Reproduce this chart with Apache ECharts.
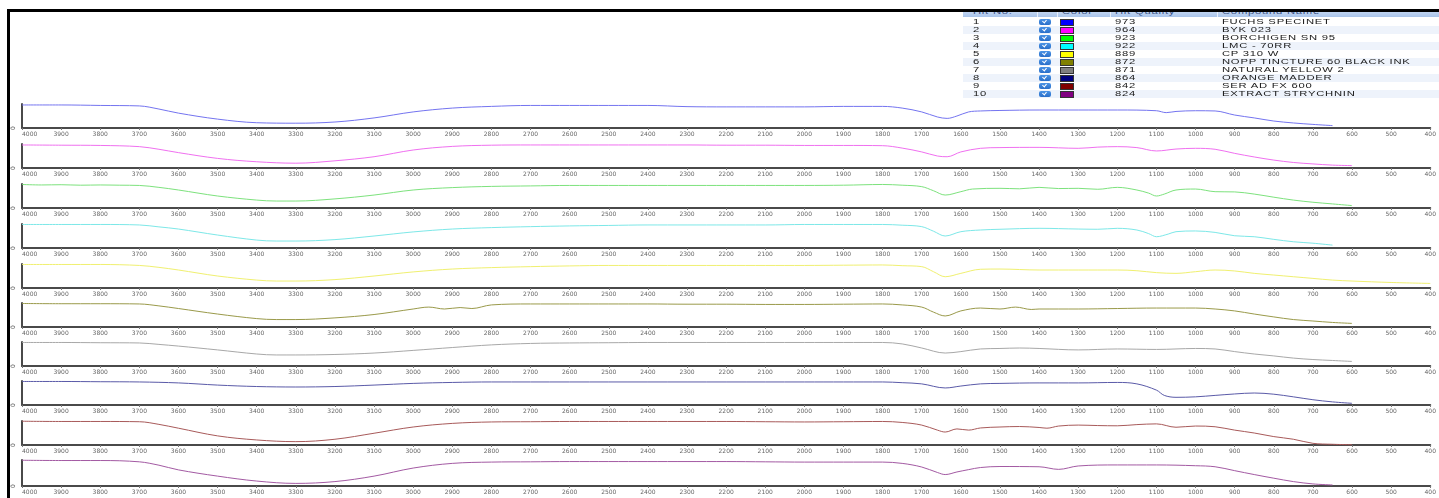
<!DOCTYPE html>
<html><head><meta charset="utf-8">
<script src="https://cdn.jsdelivr.net/npm/echarts@6/dist/echarts.min.js"></script>
<style>
html,body{margin:0;padding:0;background:#fff;}
#wrap{position:relative;width:1439px;height:498px;overflow:hidden;background:#fff;}
#chart{position:absolute;left:0;top:0;width:1439px;height:498px;}
#tbl{position:absolute;left:963px;top:0;width:476px;height:100px;font-family:"Liberation Sans",Arial,sans-serif;font-size:7.5px;color:#1a1a1a;}
.hdr{position:absolute;left:0;top:11px;width:476px;height:6px;overflow:hidden;background:linear-gradient(#c4d7f2,#a9c4ea);}
.row{position:absolute;left:0;width:476px;height:8px;}
.cell{position:absolute;top:0;line-height:8px;white-space:nowrap;letter-spacing:0.5px;transform:scaleX(1.5);transform-origin:0 50%;}
.hcell{position:absolute;top:-3px;line-height:8px;white-space:nowrap;letter-spacing:0.5px;transform:scaleX(1.5);transform-origin:0 50%;color:#3b5486;}
.sep{position:absolute;top:0;width:1px;height:6px;background:#e8effa;}
.chk{position:absolute;top:1px;width:12px;height:6px;border-radius:2px;background:linear-gradient(#4a93e6,#2a6fc9);}
.chk i{position:absolute;left:4px;top:0px;width:2px;height:3px;border-right:1px solid #fff;border-bottom:1px solid #fff;transform:rotate(40deg);}
.sw{position:absolute;top:1px;width:12px;height:5px;border:1px solid #333;}
#btop{position:absolute;left:8px;top:9px;width:1431px;height:3px;background:#000;}
#bleft{position:absolute;left:7px;top:9px;width:3px;height:489px;background:#000;}
</style></head>
<body><div id="wrap"><div id="chart"></div><div id="tbl"></div><div id="btop"></div><div id="bleft"></div></div>
<script>
// ---- data ----
const compoundNames = ["FUCHS SPECINET","BYK 023","BORCHIGEN SN 95","LMC - 70RR","CP 310 W","NOPP TINCTURE 60 BLACK INK","NATURAL YELLOW 2","ORANGE MADDER","SER AD FX 600","EXTRACT STRYCHNIN"];
const hitNumbers = [1,2,3,4,5,6,7,8,9,10];
const hitQuality = [973,964,923,922,889,872,871,864,842,824];
const headerLabels = ["Hit No.","^","Color","Hit Quality","Compound Name"];
const wavenumberMin = 400, wavenumberMax = 4000, wavenumberStep = 100;

// spectra: [wavenumber (cm-1), relative transmittance %]
const spec1 = [[4000,96],[3900,96],[3800,94],[3700,92],[3650,79],[3600,62],[3500,37],[3400,22],[3300,20],[3200,25],[3100,42],[3000,67],[2900,83],[2800,90],[2700,94],[2600,94],[2500,94],[2400,94],[2300,89],[2200,88],[2100,88],[2000,88],[1900,90],[1800,90],[1750,83],[1700,67],[1660,46],[1635,40],[1610,50],[1580,67],[1550,71],[1500,73],[1400,75],[1300,75],[1200,75],[1100,72],[1075,64],[1050,69],[1000,72],[950,71],[900,54],[850,42],[800,29],[750,21],[700,15],[650,10]];
const spec2 = [[4000,96],[3900,95],[3800,94],[3700,89],[3650,78],[3600,64],[3500,40],[3400,26],[3300,20],[3200,30],[3100,47],[3000,75],[2900,90],[2800,95],[2700,96],[2600,96],[2500,96],[2400,96],[2300,96],[2200,95],[2100,95],[2000,94],[1900,94],[1800,93],[1750,83],[1700,67],[1660,50],[1635,47],[1600,67],[1550,82],[1500,85],[1400,86],[1300,82],[1250,87],[1200,89],[1150,85],[1100,71],[1050,79],[1000,82],[950,78],[900,61],[850,46],[800,33],[750,23],[700,17],[650,12],[600,10]];
const spec3 = [[4000,98],[3950,96],[3900,97],[3850,95],[3800,96],[3750,95],[3700,94],[3650,86],[3600,75],[3500,50],[3400,33],[3350,29],[3300,29],[3200,38],[3100,54],[3000,75],[2900,85],[2800,90],[2700,92],[2600,94],[2500,94],[2400,94],[2300,94],[2200,94],[2100,94],[2000,94],[1900,95],[1800,98],[1750,95],[1700,89],[1670,72],[1640,54],[1600,68],[1570,79],[1500,82],[1450,80],[1400,86],[1350,81],[1300,82],[1250,78],[1200,86],[1150,75],[1120,62],[1100,50],[1080,58],[1050,75],[1000,79],[950,68],[900,67],[850,58],[800,45],[750,33],[700,24],[650,17],[600,10]];
const spec4 = [[4000,98],[3900,98],[3800,98],[3700,96],[3650,88],[3600,79],[3500,54],[3400,33],[3350,29],[3300,29],[3200,35],[3100,50],[3000,67],[2900,79],[2800,85],[2700,89],[2600,92],[2500,94],[2400,96],[2300,96],[2200,96],[2100,96],[2000,98],[1900,98],[1800,98],[1750,95],[1700,89],[1670,70],[1640,50],[1600,68],[1550,75],[1500,78],[1400,82],[1300,79],[1250,78],[1200,82],[1150,75],[1120,60],[1100,47],[1070,58],[1050,68],[1000,71],[950,65],[900,51],[850,47],[800,36],[750,26],[700,20],[650,12]];
const spec5 = [[4000,98],[3900,98],[3800,98],[3700,94],[3650,86],[3600,75],[3500,50],[3400,33],[3350,29],[3300,29],[3200,35],[3100,50],[3000,67],[2900,79],[2800,85],[2700,89],[2600,92],[2500,94],[2400,94],[2300,94],[2200,94],[2100,94],[2000,94],[1900,95],[1800,96],[1750,93],[1700,89],[1670,68],[1640,47],[1600,61],[1550,78],[1500,79],[1400,75],[1300,75],[1200,75],[1150,72],[1100,64],[1050,61],[1000,68],[950,75],[900,71],[850,61],[800,54],[750,47],[700,40],[650,33],[600,29],[500,23],[400,19]];
const spec6 = [[4000,98],[3900,97],[3800,97],[3700,96],[3650,88],[3600,77],[3500,54],[3400,35],[3350,31],[3300,31],[3200,38],[3100,52],[3000,75],[2960,83],[2920,75],[2880,81],[2850,77],[2800,92],[2700,96],[2600,96],[2500,96],[2400,96],[2300,95],[2200,95],[2100,94],[2000,94],[1900,95],[1800,96],[1750,92],[1700,83],[1670,62],[1640,46],[1600,67],[1550,79],[1500,75],[1460,83],[1420,73],[1400,75],[1300,75],[1200,77],[1100,79],[1000,79],[950,75],[900,67],[850,54],[800,42],[750,31],[700,25],[650,19],[600,15]];
const spec7 = [[4000,98],[3900,98],[3800,97],[3700,96],[3650,90],[3600,83],[3500,67],[3400,50],[3350,46],[3300,46],[3200,48],[3100,54],[3000,65],[2900,77],[2800,88],[2700,94],[2600,96],[2500,97],[2400,98],[2200,98],[2000,98],[1900,98],[1800,98],[1750,92],[1700,75],[1640,54],[1600,60],[1550,71],[1500,73],[1450,75],[1400,73],[1300,67],[1200,71],[1100,69],[1000,73],[950,71],[900,60],[850,50],[800,42],[750,33],[700,27],[650,23],[600,19]];
const spec8 = [[4000,98],[3900,98],[3800,97],[3700,96],[3600,92],[3500,83],[3400,77],[3300,75],[3200,77],[3100,83],[3000,90],[2900,94],[2800,96],[2600,96],[2400,96],[2200,96],[2000,96],[1900,96],[1800,96],[1750,93],[1700,88],[1640,71],[1600,79],[1550,88],[1500,90],[1400,92],[1300,92],[1200,94],[1150,88],[1100,62],[1080,40],[1050,32],[1000,34],[950,40],[900,46],[850,50],[800,45],[750,34],[700,22],[650,13],[600,7]];
const spec9 = [[4000,99],[3900,98],[3800,98],[3700,97],[3650,86],[3600,70],[3500,38],[3400,21],[3300,14],[3200,24],[3100,49],[3000,75],[2900,90],[2800,96],[2700,97],[2600,98],[2500,98],[2400,98],[2300,98],[2200,98],[2100,97],[2000,96],[1900,97],[1800,98],[1750,94],[1700,83],[1660,62],[1640,54],[1610,67],[1580,62],[1550,71],[1500,75],[1450,77],[1400,73],[1380,70],[1350,79],[1300,83],[1250,81],[1200,80],[1150,85],[1100,88],[1050,74],[1000,79],[950,76],[900,62],[850,50],[800,35],[750,24],[700,7],[650,3],[600,1]];
const spec10 = [[4000,99],[3900,98],[3800,98],[3700,93],[3650,80],[3600,62],[3500,38],[3400,19],[3300,10],[3200,17],[3100,38],[3000,69],[2900,87],[2800,92],[2700,93],[2600,94],[2500,94],[2400,94],[2300,94],[2200,94],[2100,93],[2000,92],[1900,92],[1800,92],[1750,87],[1700,73],[1660,52],[1640,44],[1610,54],[1580,63],[1550,71],[1500,75],[1400,74],[1350,64],[1300,77],[1200,81],[1100,81],[1000,78],[950,74],[900,59],[850,44],[800,30],[750,17],[700,8],[650,4]];
const spectra = [spec1,spec2,spec3,spec4,spec5,spec6,spec7,spec8,spec9,spec10];

// ---- styles / layout ----
const swatchColors = ["#0000ff","#ff00ff","#00ff00","#00ffff","#ffff00","#808000","#808080","#000080","#800000","#800080"];
const lineColors = ["#7474f0","#f070f0","#7de27d","#7de8e8","#f0f070","#9a9a4a","#a8a8a8","#5a5aa8","#a85a5a","#a35aa3"];
const panelAxisY = [128,168,208,248,288,327,366,405,445,486];
const panelH = [24,24,24,24,24,24,24,24,24,26];

const grids=[], xAxes=[], yAxes=[], series=[];
spectra.forEach((s,i)=>{
  grids.push({left:22,right:2,top:panelAxisY[i]-panelH[i],height:panelH[i],containLabel:false});
  xAxes.push({type:'value',gridIndex:i,min:wavenumberMin,max:wavenumberMax,interval:wavenumberStep,inverse:true,
    axisLine:{show:true,onZero:false,lineStyle:{color:'#4a4a4a',width:2}},
    axisTick:{show:true,length:2,lineStyle:{color:'#777',width:1}},
    axisLabel:{fontSize:6,fontFamily:'DejaVu Sans',color:'#666',margin:3,showMinLabel:true,showMaxLabel:true,alignMaxLabel:'left',formatter:v=>String(v)},
    splitLine:{show:false}});
  yAxes.push({type:'value',gridIndex:i,min:0,max:100,interval:100,
    axisLine:{show:true,lineStyle:{color:'#4a4a4a',width:2}},axisTick:{show:false},splitLine:{show:false},
    axisLabel:{show:true,rotate:90,fontSize:6,fontFamily:'DejaVu Sans',color:'#555',margin:6,formatter:v=>v===0?'0':''}});
  series.push({type:'line',xAxisIndex:i,yAxisIndex:i,data:s,showSymbol:false,smooth:0.35,
    lineStyle:{color:lineColors[i],width:1},silent:true,clip:false});
});

const chart = echarts.init(document.getElementById('chart'),null,{renderer:'canvas'});
chart.setOption({animation:false,backgroundColor:'#fff',grid:grids,xAxis:xAxes,yAxis:yAxes,series:series});

// ---- hit list table ----
const tbl = document.getElementById('tbl');
const hdr = document.createElement('div'); hdr.className='hdr';
const hdrX = [10,59,99,152,259];
headerLabels.forEach((t,k)=>{const d=document.createElement('div');d.className='hcell';d.style.left=hdrX[k]+'px';d.textContent=t;hdr.appendChild(d);});
[74,94,147,254].forEach(x=>{const s=document.createElement('div');s.className='sep';s.style.left=x+'px';hdr.appendChild(s);});
tbl.appendChild(hdr);
hitNumbers.forEach((n,i)=>{
  const r=document.createElement('div'); r.className='row';
  r.style.top=(17.7+8.07*i)+'px';
  if(i%2===1) r.style.background='#eef3fb';
  const c1=document.createElement('div');c1.className='cell';c1.style.left='10px';c1.textContent=String(n);r.appendChild(c1);
  const ck=document.createElement('div');ck.className='chk';ck.style.left='76px';ck.appendChild(document.createElement('i'));r.appendChild(ck);
  const sw=document.createElement('div');sw.className='sw';sw.style.left='97px';sw.style.background=swatchColors[i];r.appendChild(sw);
  const c3=document.createElement('div');c3.className='cell';c3.style.left='152px';c3.textContent=String(hitQuality[i]);r.appendChild(c3);
  const c4=document.createElement('div');c4.className='cell';c4.style.left='259px';c4.textContent=compoundNames[i];r.appendChild(c4);
  tbl.appendChild(r);
});
</script></body></html>
